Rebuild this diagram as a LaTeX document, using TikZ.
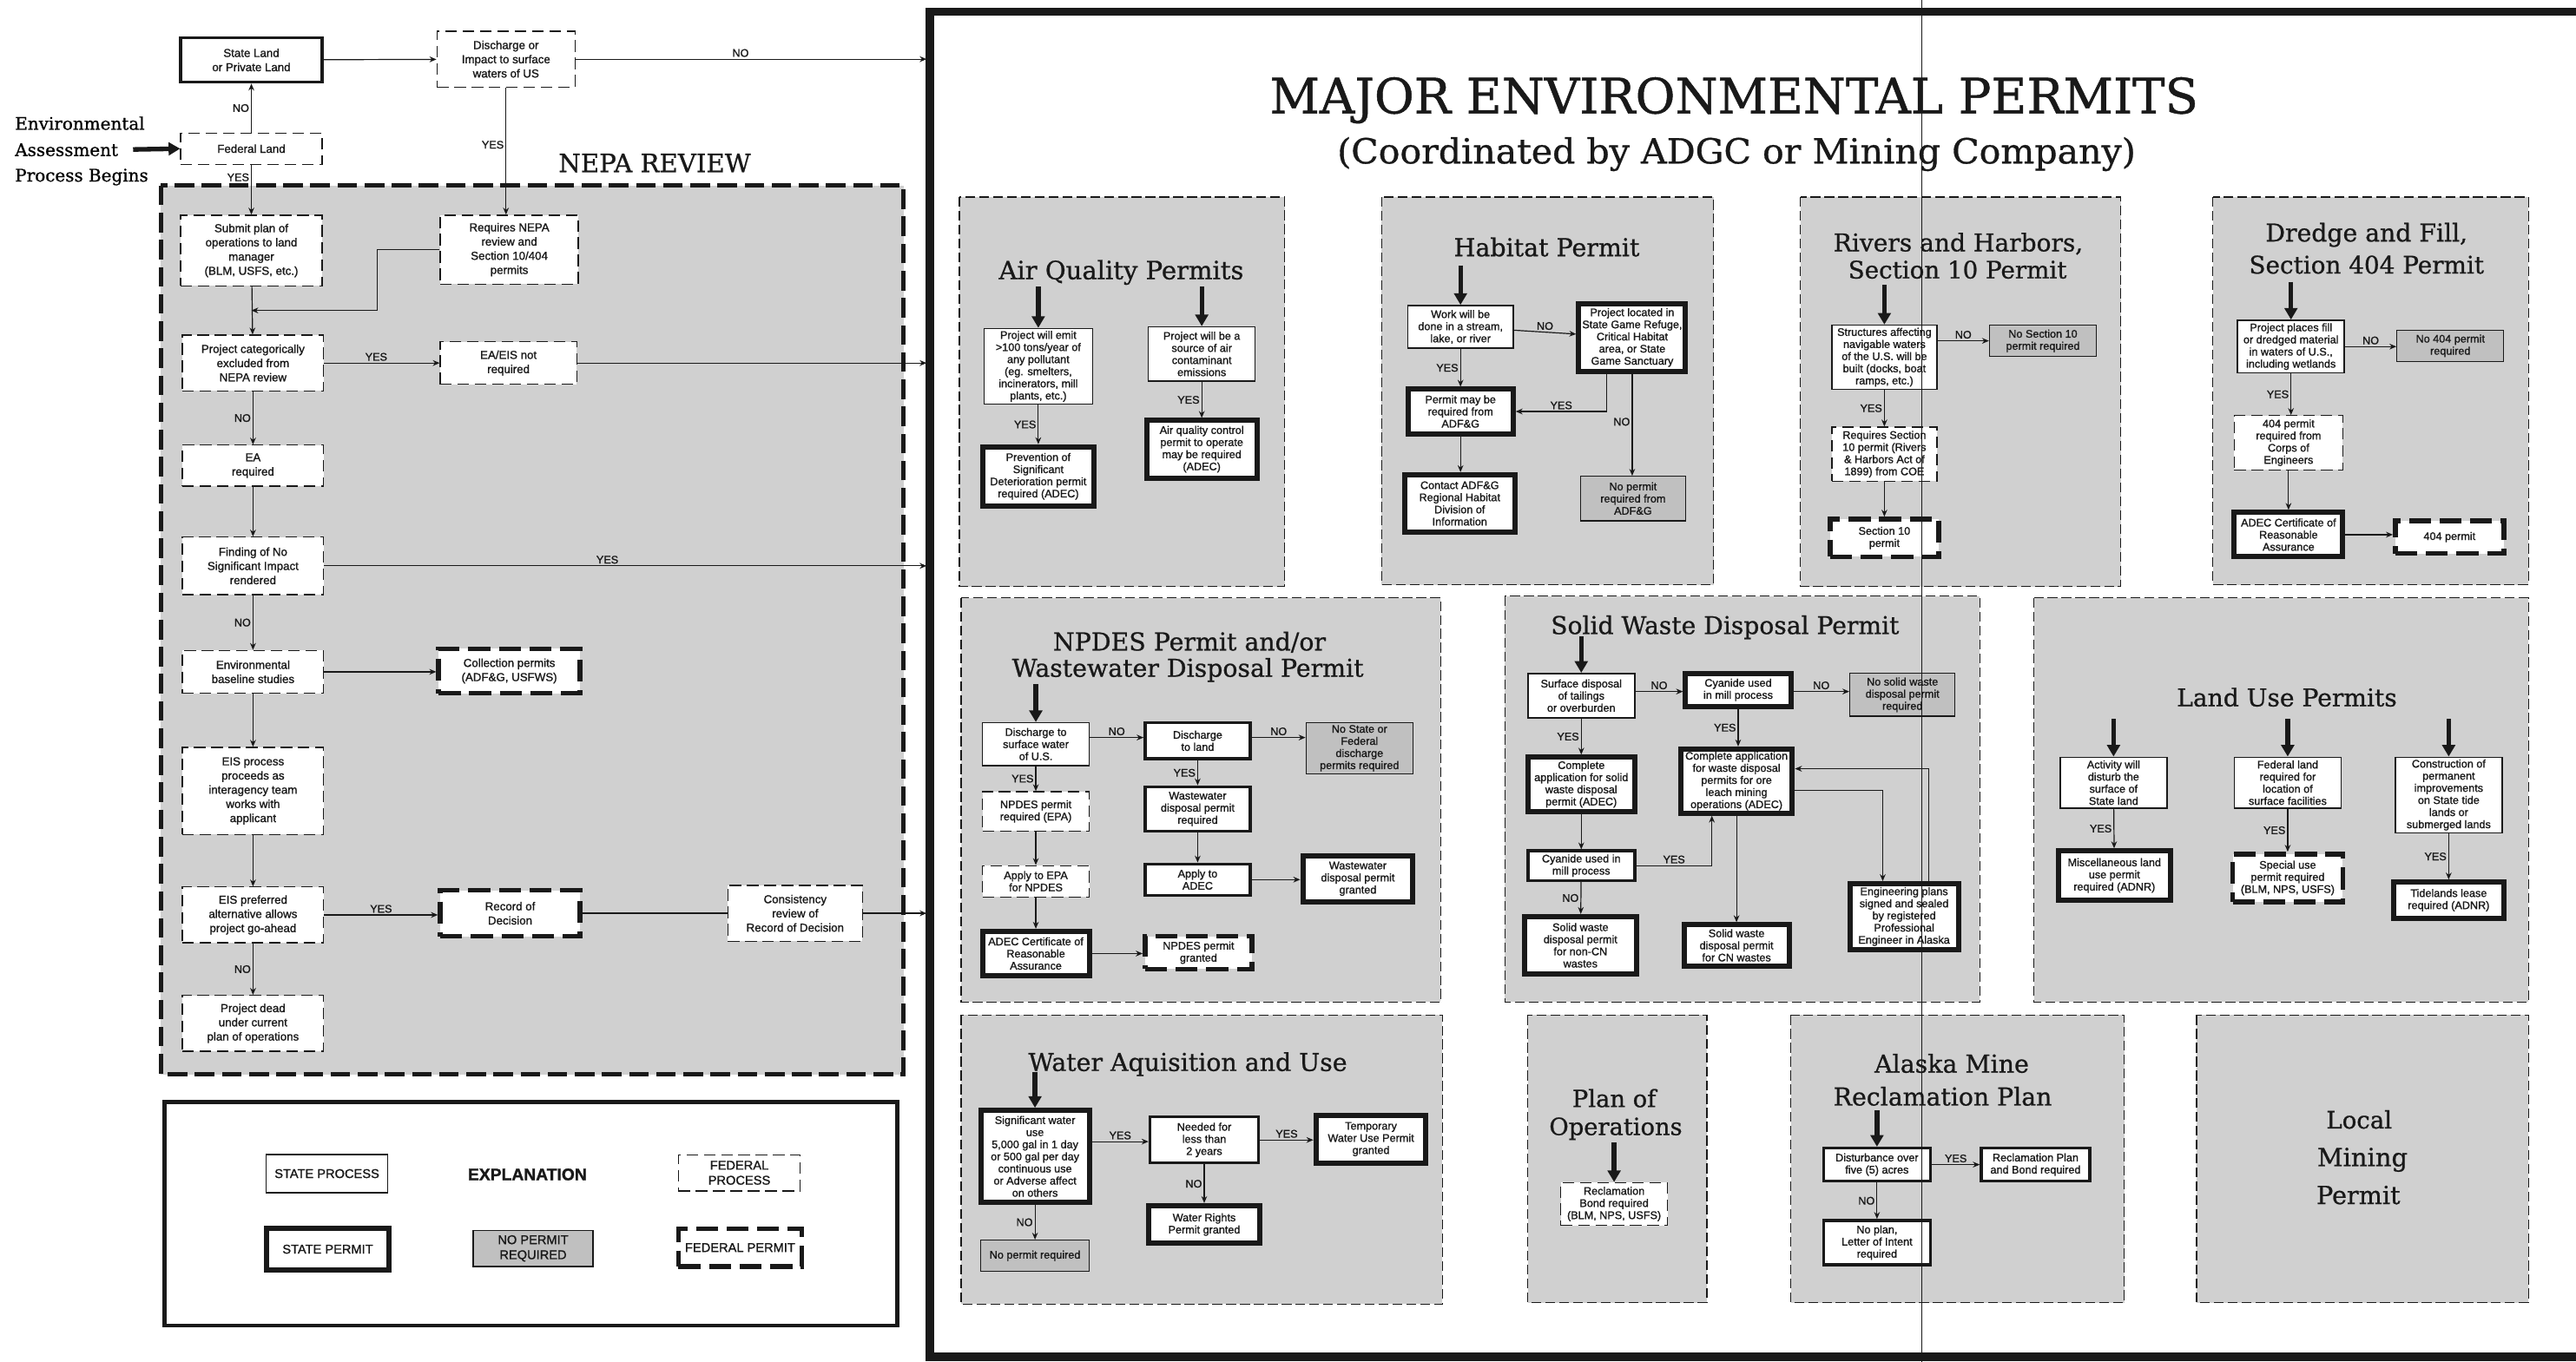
\documentclass[tikz,border=0pt]{standalone}
\usepackage{fontspec}
\usepackage{graphicx}
\usetikzlibrary{arrows.meta}
\newfontfamily\boxsans[FakeBold=1.2]{Liberation Sans}
\newfontfamily\ttlserif[FakeBold=0.8]{DejaVu Serif}
\definecolor{panelgray}{RGB}{208,208,208}
\definecolor{nopermitgray}{RGB}{192,192,192}
\definecolor{inkcolor}{RGB}{25,25,25}
\newlength{\unitpx}
\setlength{\unitpx}{0.5mm}
\newcommand{\boxfont}{\boxsans\fontsize{9.5}{10.5}\selectfont}
\newcommand{\nepafont}{\boxsans\fontsize{10}{12.3}\selectfont}
\newcommand{\lblfont}{\boxsans\fontsize{9.5}{10}\selectfont}
\newcommand{\legfont}{\boxsans\fontsize{11}{13}\selectfont}
\newcommand{\envfont}{\ttlserif\fontsize{15}{18}\selectfont}
\newcommand{\ttl}[2]{\resizebox{#1\unitpx}{!}{\ttlserif\fontsize{20}{24}\selectfont #2}}
\tikzset{
boxtext/.style={
  align=center,
  font=\boxfont,
  inner sep=1pt,
  text=inkcolor
},
wh/.style 2 args={
  minimum width=#1*0.5mm,
  minimum height=#2*0.5mm
},
stateproc/.style={
  draw=inkcolor,
  line width=1.2pt,
  fill=white,
  boxtext
},
statemed/.style={
  draw=inkcolor,
  line width=2.6pt,
  fill=white,
  boxtext
},
statepermit/.style={
  draw=inkcolor,
  line width=4.5pt,
  fill=white,
  boxtext
},
fedproc/.style={
  draw=inkcolor,
  line width=1pt,
  dash pattern=on 10pt off 5pt,
  fill=white,
  boxtext
},
fedpermit/.style={
  draw=inkcolor,
  line width=4.2pt,
  dash pattern=on 19pt off 7.5pt,
  fill=white,
  boxtext
},
nopermit/.style={
  draw=inkcolor,
  line width=1pt,
  fill=nopermitgray,
  boxtext
},
panelbox/.style={
  draw=inkcolor,
  line width=0.9pt,
  dash pattern=on 8.5pt off 3.5pt,
  fill=panelgray
},
nepabox/.style={
  draw=inkcolor,
  line width=3.8pt,
  dash pattern=on 17pt off 6.5pt,
  fill=panelgray
},
arrow/.style={
  -{Stealth[length=6pt,width=5pt]},
  line width=0.9pt,
  draw=inkcolor
},
entryarrow/.style={
  -{Triangle[length=10pt,width=11pt]},
  line width=4pt,
  draw=inkcolor
},
yesno/.style={
  font=\lblfont,
  inner sep=1.5pt,
  text=inkcolor
},
paneltitle/.style={
  inner sep=0pt,
  anchor=base,
  text=inkcolor
}
}
\begin{document}
\begin{tikzpicture}[x=0.5mm, y=-0.5mm]
\useasboundingbox (0,0) rectangle (1568,829);

% grey areas and frames
\draw[nepabox] (98,113) rectangle (550,654);
\draw[panelbox] (584,120) rectangle (782,357);
\draw[panelbox] (841,120) rectangle (1043,356);
\draw[panelbox] (1096,120) rectangle (1291,357);
\draw[panelbox] (1347,120) rectangle (1539,356);
\draw[panelbox] (585,364) rectangle (877,610);
\draw[panelbox] (916,363) rectangle (1205,610);
\draw[panelbox] (1238,364) rectangle (1539,610);
\draw[panelbox] (585,618) rectangle (878,794);
\draw[panelbox] (930,618) rectangle (1039,793);
\draw[panelbox] (1090,618) rectangle (1293,793);
\draw[panelbox] (1337,618) rectangle (1539,793);
\draw[line width=3.6pt, draw=inkcolor] (100,671) rectangle (546,807);
\draw[line width=7pt, draw=inkcolor] (566,7) rectangle (1600,826);
\coordinate (frm) at (564,0);

% titles
\node[paneltitle] (mtitle) at (1055.5,69) {\resizebox{565\unitpx}{22\unitpx}{\ttlserif MAJOR ENVIRONMENTAL PERMITS}};
\node[paneltitle] (stitle) at (1057,99.5) {\resizebox{486\unitpx}{16\unitpx}{\ttlserif (Coordinated by ADGC or Mining Company)}};
\node[paneltitle] (nepat) at (398.5,104.8) {\ttl{117}{NEPA REVIEW}};
\node[paneltitle] (aqt) at (682.5,170) {\ttl{149}{Air Quality Permits}};
\node[paneltitle] (hbt) at (941.5,156) {\ttl{113}{Habitat Permit}};
\node[paneltitle] (rht1) at (1192,153) {\ttl{152}{Rivers and Harbors,}};
\node[paneltitle] (rht2) at (1191.5,169.5) {\ttl{133}{Section 10 Permit}};
\node[paneltitle] (dft1) at (1440.5,147) {\ttl{123}{Dredge and Fill,}};
\node[paneltitle] (dft2) at (1440.5,166.5) {\ttl{143}{Section 404 Permit}};
\node[paneltitle] (npt1) at (724,396) {\ttl{166}{NPDES Permit and/or}};
\node[paneltitle] (npt2) at (723,412) {\ttl{214}{Wastewater Disposal Permit}};
\node[paneltitle] (swt) at (1050,386) {\ttl{212}{Solid Waste Disposal Permit}};
\node[paneltitle] (lut) at (1392,430) {\ttl{134}{Land Use Permits}};
\node[paneltitle] (wat) at (723,652) {\ttl{194}{Water Aquisition and Use}};
\node[paneltitle] (pot1) at (982.5,674) {\ttl{51}{Plan of}};
\node[paneltitle] (pot2) at (983.5,691) {\ttl{81}{Operations}};
\node[paneltitle] (amt1) at (1188,653) {\ttl{94}{Alaska Mine}};
\node[paneltitle] (amt2) at (1182.5,673) {\ttl{133}{Reclamation Plan}};
\node[paneltitle] (lct1) at (1436,687) {\ttl{40}{Local}};
\node[paneltitle] (lct2) at (1438,710) {\ttl{55}{Mining}};
\node[paneltitle] (lct3) at (1435.5,733) {\ttl{51}{Permit}};

% NEPA side
\node[font=\envfont, anchor=base west, inner sep=0pt] (env1) at (9,79) {Environmental};
\node[font=\envfont, anchor=base west, inner sep=0pt] (env2) at (9,95) {Assessment};
\node[font=\envfont, anchor=base west, inner sep=0pt] (env3) at (9,110.5) {Process Begins};
\coordinate (envtip) at (81,91);

\node[statemed, wh={86}{27}, font=\nepafont] (stl) at (153,36.5) {State Land\\or Private Land};
\node[fedproc, wh={84}{34}, font=\nepafont] (dis) at (308,36) {Discharge or\\Impact to surface\\waters of US};
\node[fedproc, wh={86}{19}, font=\nepafont] (fed) at (153,90.5) {Federal Land};
\node[fedproc, wh={86}{43}, font=\nepafont] (sub) at (153,152.5) {Submit plan of\\operations to land\\manager\\(BLM, USFS, etc.)};
\node[fedproc, wh={84}{42}, font=\nepafont] (req) at (310,152) {Requires NEPA\\review and\\Section 10/404\\permits};
\node[fedproc, wh={86}{34}, font=\nepafont] (cat) at (154,221) {Project categorically\\excluded from\\NEPA review};
\node[fedproc, wh={83}{26}, font=\nepafont] (eae) at (309.5,221) {EA/EIS not\\required};
\node[fedproc, wh={86}{25}, font=\nepafont] (ea) at (154,283.5) {EA\\required};
\node[fedproc, wh={86}{35}, font=\nepafont] (fnd) at (154,344.5) {Finding of No\\Significant Impact\\rendered};
\node[fedproc, wh={86}{26}, font=\nepafont] (env) at (154,409) {Environmental\\baseline studies};
\node[fedpermit, wh={86}{27}, font=\nepafont] (col) at (310,408.5) {Collection permits\\(ADF\&G, USFWS)};
\node[fedproc, wh={86}{53}, font=\nepafont] (eis) at (154,481.5) {EIS process\\proceeds as\\interagency team\\works with\\applicant};
\node[fedproc, wh={86}{34}, font=\nepafont] (prf) at (154,557) {EIS preferred\\alternative allows\\project go-ahead};
\node[fedpermit, wh={85}{28}, font=\nepafont] (rod) at (310.5,556) {Record of\\Decision};
\node[fedproc, wh={82}{34}, font=\nepafont] (cns) at (484,556) {Consistency\\review of\\Record of Decision};
\node[fedproc, wh={86}{34}, font=\nepafont] (dead) at (154,623) {Project dead\\under current\\plan of operations};

% explanation
\node[stateproc, wh={74}{23}, font=\legfont] (lg1) at (199,714.5) {STATE PROCESS};
\node[font=\boxsans\bfseries\fontsize{14.5}{16}\selectfont, text=inkcolor] (lg0) at (321,715) {EXPLANATION};
\node[fedproc, wh={74}{22}, font=\legfont] (lg2) at (450,714) {FEDERAL\\PROCESS};
\node[statepermit, wh={75}{25}, font=\legfont] (lg3) at (199.5,760.5) {STATE PERMIT};
\node[nopermit, wh={73}{22}, font=\legfont] (lg4) at (324.5,760) {NO PERMIT\\REQUIRED};
\node[fedpermit, wh={75}{23}, font=\legfont] (lg5) at (450.5,759.5) {FEDERAL PERMIT};

% air quality
\node[stateproc, wh={66}{46}] (aq1) at (632,223) {Project will emit\\>100 tons/year of\\any pollutant\\(eg. smelters,\\incinerators, mill\\plants, etc.)};
\node[stateproc, wh={65}{33}] (aq2) at (731.5,215.5) {Project will be a\\source of air\\contaminant\\emissions};
\node[statepermit, wh={68}{36}] (aq3) at (632,290) {Prevention of\\Significant\\Deterioration permit\\required (ADEC)};
\node[statepermit, wh={67}{35}] (aq4) at (731.5,273.5) {Air quality control\\permit to operate\\may be required\\(ADEC)};

% habitat
\node[stateproc, wh={64}{26}] (hb1) at (889,199) {Work will be\\done in a stream,\\lake, or river};
\node[statepermit, wh={65}{41}] (hb2) at (993.5,205.5) {Project located in\\State Game Refuge,\\Critical Habitat\\area, or State\\Game Sanctuary};
\node[statepermit, wh={64}{27}] (hb3) at (889,250.5) {Permit may be\\required from\\ADF\&G};
\node[nopermit, wh={64}{27}] (hb4) at (994,303.5) {No permit\\required from\\ADF\&G};
\node[statepermit, wh={67}{35}] (hb5) at (888.5,306.5) {Contact ADF\&G\\Regional Habitat\\Division of\\Information};

% rivers and harbors
\node[stateproc, wh={64}{39}] (rh1) at (1147,217.5) {Structures affecting\\navigable waters\\of the U.S. will be\\built (docks, boat\\ramps, etc.)};
\node[nopermit, wh={65}{19}] (rh2) at (1243.5,207.5) {No Section 10\\permit required};
\node[fedproc, wh={64}{33}] (rh3) at (1147,276.5) {Requires Section\\10 permit (Rivers\\\& Harbors Act of\\1899) from COE};
\node[fedpermit, wh={66}{23}] (rh4) at (1147,327.5) {Section 10\\permit};

% dredge and fill
\node[stateproc, wh={65}{32}] (df1) at (1394.5,211) {Project places fill\\or dredged material\\in waters of U.S.,\\including wetlands};
\node[nopermit, wh={65}{19}] (df2) at (1491.5,210.5) {No 404 permit\\required};
\node[fedproc, wh={66}{33}] (df3) at (1393,269.5) {404 permit\\required from\\Corps of\\Engineers};
\node[statepermit, wh={66}{27}] (df4) at (1393,325.5) {ADEC Certificate of\\Reasonable\\Assurance};
\node[fedpermit, wh={66}{20}] (df5) at (1491,327) {404 permit};

% npdes
\node[stateproc, wh={65}{26}] (np1) at (630.5,453) {Discharge to\\surface water\\of U.S.};
\node[statemed, wh={64}{22}] (np2) at (729,451) {Discharge\\to land};
\node[nopermit, wh={65}{31}] (np3) at (827.5,455.5) {No State or\\Federal\\discharge\\permits required};
\node[fedproc, wh={65}{24}] (np4) at (630.5,494) {NPDES permit\\required (EPA)};
\node[fedproc, wh={65}{19}] (np5) at (630.5,536.5) {Apply to EPA\\for NPDES};
\node[statepermit, wh={65}{27}] (np6) at (630.5,580.5) {ADEC Certificate of\\Reasonable\\Assurance};
\node[fedpermit, wh={65}{20}] (np7) at (729.5,580) {NPDES permit\\granted};
\node[statemed, wh={64}{27}] (np8) at (729,492.5) {Wastewater\\disposal permit\\required};
\node[statemed, wh={64}{19}] (np9) at (729,535.5) {Apply to\\ADEC};
\node[statepermit, wh={67}{28}] (np10) at (826.5,535) {Wastewater\\disposal permit\\granted};

% solid waste
\node[stateproc, wh={65}{27}] (sw1) at (962.5,423.5) {Surface disposal\\of tailings\\or overburden};
\node[statepermit, wh={64}{20}] (sw2) at (1058,420) {Cyanide used\\in mill process};
\node[nopermit, wh={64}{26}] (sw3) at (1158,423) {No solid waste\\disposal permit\\required};
\node[statepermit, wh={65}{33}] (sw4) at (962.5,477.5) {Complete\\application for solid\\waste disposal\\permit (ADEC)};
\node[statepermit, wh={68}{39}] (sw5) at (1057,475.5) {Complete application\\for waste disposal\\permits for ore\\leach mining\\operations (ADEC)};
\node[statemed, wh={65}{18}] (sw6) at (962.5,527) {Cyanide used in\\mill process};
\node[statepermit, wh={68}{35}] (sw7) at (962,575.5) {Solid waste\\disposal permit\\for non-CN\\wastes};
\node[statepermit, wh={64}{25}] (sw8) at (1057,575.5) {Solid waste\\disposal permit\\for CN wastes};
\node[statepermit, wh={66}{40}] (sw9) at (1159,558) {Engineering plans\\signed and sealed\\by registered\\Professional\\Engineer in Alaska};

% land use
\node[stateproc, wh={65}{31}] (lu1) at (1286.5,476.5) {Activity will\\disturb the\\surface of\\State land};
\node[stateproc, wh={65}{31}] (lu2) at (1392.5,476.5) {Federal land\\required for\\location of\\surface facilities};
\node[stateproc, wh={65}{46}] (lu3) at (1490.5,484) {Construction of\\permanent\\improvements\\on State tide\\lands or\\submerged lands};
\node[statepermit, wh={68}{30}] (lu4) at (1287,533) {Miscellaneous land\\use permit\\required (ADNR)};
\node[fedpermit, wh={67}{29}] (lu5) at (1392.5,534.5) {Special use\\permit required\\(BLM, NPS, USFS)};
\node[statepermit, wh={67}{22}] (lu6) at (1490.5,548) {Tidelands lease\\required (ADNR)};

% water
\node[statepermit, wh={66}{56}] (wa1) at (630,704) {Significant water\\use\\5,000 gal in 1 day\\or 500 gal per day\\continuous use\\or Adverse affect\\on others};
\node[statemed, wh={66}{28}] (wa2) at (733,694) {Needed for\\less than\\2 years};
\node[statepermit, wh={67}{29}] (wa3) at (834.5,693.5) {Temporary\\Water Use Permit\\granted};
\node[statepermit, wh={68}{23}] (wa4) at (733,745.5) {Water Rights\\Permit granted};
\node[nopermit, wh={66}{19}] (wa5) at (630,764.5) {No permit required};

% plan of operations, reclamation
\node[fedproc, wh={65}{26}] (po1) at (982.5,733) {Reclamation\\Bond required\\(BLM, NPS, USFS)};
\node[statemed, wh={65}{20}] (am1) at (1142.5,709) {Disturbance over\\five (5) acres};
\node[statemed, wh={66}{20}] (am2) at (1239,709) {Reclamation Plan\\and Bond required};
\node[statemed, wh={65}{27}] (am3) at (1142.5,756.5) {No plan,\\Letter of Intent\\required};

% connectors, NEPA side
\draw[entryarrow] (envtip) -- (fed.west);
\draw[arrow] (stl) -- (dis);
\draw[arrow] (dis.east) -- (dis.east -| frm) node[yesno, above, pos=0.47] (l1) {NO};
\draw[arrow] (fed) -- (stl) node[yesno, left, midway] (l2) {NO};
\draw[arrow] (fed) -- (sub) node[yesno, left, pos=0.25] (l3) {YES};
\draw[arrow] (dis.south) -- (dis.south |- req.north) node[yesno, left, pos=0.45] (l4) {YES};
\coordinate (nepaj) at (229.5,189);
\draw[arrow] (req.west) -| (nepaj) -- (nepaj -| sub.south);
\draw[arrow] (sub) -- (cat);
\draw[arrow] (cat) -- (eae) node[yesno, above, pos=0.45] (l5) {YES};
\draw[arrow] (eae.east) -- (eae.east -| frm);
\draw[arrow] (cat) -- (ea) node[yesno, left, midway] (l6) {NO};
\draw[arrow] (ea) -- (fnd);
\draw[arrow] (fnd.east) -- (fnd.east -| frm) node[yesno, above, pos=0.47] (l7) {YES};
\draw[arrow] (fnd) -- (env) node[yesno, left, midway] (l8) {NO};
\draw[arrow] (env.east) -- (env.east -| col.west);
\draw[arrow] (env) -- (eis);
\draw[arrow] (eis) -- (prf);
\draw[arrow] (prf.east) -- (prf.east -| rod.west) node[yesno, above, midway] (l9) {YES};
\draw[line width=0.9pt, draw=inkcolor] (rod.east) -- (rod.east -| cns.west);
\draw[arrow] (cns.east) -- (cns.east -| frm);
\draw[arrow] (prf) -- (dead) node[yesno, left, midway] (l10) {NO};

% connectors, permits
\draw[entryarrow] ([yshift=12.5mm]aq1.north) -- (aq1.north);
\draw[entryarrow] ([yshift=12mm]aq2.north) -- (aq2.north);
\draw[arrow] (aq1) -- (aq3) node[yesno, left, midway] (l11) {YES};
\draw[arrow] (aq2) -- (aq4) node[yesno, left, midway] (l12) {YES};

\draw[entryarrow] ([yshift=12mm]hb1.north) -- (hb1.north);
\draw[arrow] (hb1) -- (hb2) node[yesno, above, midway] (l13) {NO};
\draw[arrow] (hb1) -- (hb3) node[yesno, left, midway] (l14) {YES};
\draw[arrow] ([xshift=-7.75mm]hb2.south) |- (hb3.east) node[yesno, above, pos=0.75] (l15) {YES};
\draw[arrow] (hb2.south) -- (hb2.south |- hb4.north) node[yesno, left, pos=0.47] (l16) {NO};
\draw[arrow] (hb3) -- (hb3.south |- hb5.north);

\draw[entryarrow] ([yshift=12mm]rh1.north) -- (rh1.north);
\draw[arrow] (rh2.west -| rh1.east) -- (rh2.west) node[yesno, above, midway] (l17) {NO};
\draw[arrow] (rh1) -- (rh3) node[yesno, left, midway] (l18) {YES};
\draw[arrow] (rh3) -- (rh4);

\draw[entryarrow] ([yshift=11.5mm]df1.north) -- (df1.north);
\draw[arrow] (df1.east) -- (df1.east -| df2.west) node[yesno, above, midway] (l19) {NO};
\draw[arrow] (df1.south) -- (df1.south |- df3.north) node[yesno, left, midway] (l20) {YES};
\draw[arrow] (df3) -- (df4);
\draw[arrow] (df4.east) -- (df4.east -| df5.west);

\draw[entryarrow] ([yshift=11.5mm]np1.north) -- (np1.north);
\draw[arrow] ([yshift=2mm]np1.east) -- ([yshift=2mm]np1.east -| np2.west) node[yesno, above, midway] (l21) {NO};
\draw[arrow] ([yshift=1mm]np2.east) -- ([yshift=1mm]np2.east -| np3.west) node[yesno, above, midway] (l22) {NO};
\draw[arrow] (np1) -- (np4) node[yesno, left, midway] (l23) {YES};
\draw[arrow] (np4) -- (np5);
\draw[arrow] (np5) -- (np6);
\draw[arrow] (np6.east) -- (np6.east -| np7.west);
\draw[arrow] (np2) -- (np8) node[yesno, left, midway] (l24) {YES};
\draw[arrow] (np8) -- (np9);
\draw[arrow] (np9.east) -- (np9.east -| np10.west);

\draw[entryarrow] ([yshift=11mm]sw1.north) -- (sw1.north);
\draw[arrow] ([yshift=1.25mm]sw1.east) -- ([yshift=1.25mm]sw1.east -| sw2.west) node[yesno, above, midway] (l25) {NO};
\draw[arrow] ([yshift=-0.5mm]sw2.east) -- ([yshift=-0.5mm]sw2.east -| sw3.west) node[yesno, above, midway] (l26) {NO};
\draw[arrow] (sw1) -- (sw4) node[yesno, left, midway] (l27) {YES};
\draw[arrow] (sw2.south) -- (sw2.south |- sw5.north) node[yesno, left, midway] (l28) {YES};
\draw[arrow] (sw4) -- (sw6);
\draw[arrow] (sw6.east) -| ([xshift=-7.5mm]sw5.south) node[yesno, above, pos=0.25] (l29) {YES};
\draw[arrow] (sw6) -- (sw7) node[yesno, left, midway] (l30) {NO};
\draw[arrow] (sw5.south) -- (sw5.south |- sw8.north);
\draw[arrow] ([yshift=-2.75mm]sw5.east) -| ([xshift=-6.5mm]sw9.north);
\draw[arrow] ([xshift=7.5mm]sw9.north) |- ([yshift=3.75mm]sw5.east);

\draw[entryarrow] ([yshift=11.5mm]lu1.north) -- (lu1.north);
\draw[entryarrow] ([yshift=11.5mm]lu2.north) -- (lu2.north);
\draw[entryarrow] ([yshift=11.5mm]lu3.north) -- (lu3.north);
\draw[arrow] (lu1) -- (lu4) node[yesno, left, midway] (l31) {YES};
\draw[arrow] (lu2) -- (lu5) node[yesno, left, midway] (l32) {YES};
\draw[arrow] (lu3) -- (lu6) node[yesno, left, midway] (l33) {YES};

\draw[entryarrow] ([yshift=11mm]wa1.north) -- (wa1.north);
\draw[arrow] ([yshift=4.5mm]wa1.east) -- ([yshift=4.5mm]wa1.east -| wa2.west) node[yesno, above, midway] (l34) {YES};
\draw[arrow] (wa2.east) -- (wa2.east -| wa3.west) node[yesno, above, midway] (l35) {YES};
\draw[arrow] (wa2) -- (wa4) node[yesno, left, midway] (l36) {NO};
\draw[arrow] (wa1) -- (wa5) node[yesno, left, midway] (l37) {NO};

\draw[entryarrow] ([yshift=12mm]po1.north) -- (po1.north);
\draw[entryarrow] ([yshift=11mm]am1.north) -- (am1.north);
\draw[arrow] (am1) -- (am2) node[yesno, above, midway] (l38) {YES};
\draw[arrow] (am1) -- (am3) node[yesno, left, midway] (l39) {NO};

% fold of the sheet
\draw[line width=0.8pt, draw=inkcolor] (1170,0) -- (1170,829);
\end{tikzpicture}
\end{document}
